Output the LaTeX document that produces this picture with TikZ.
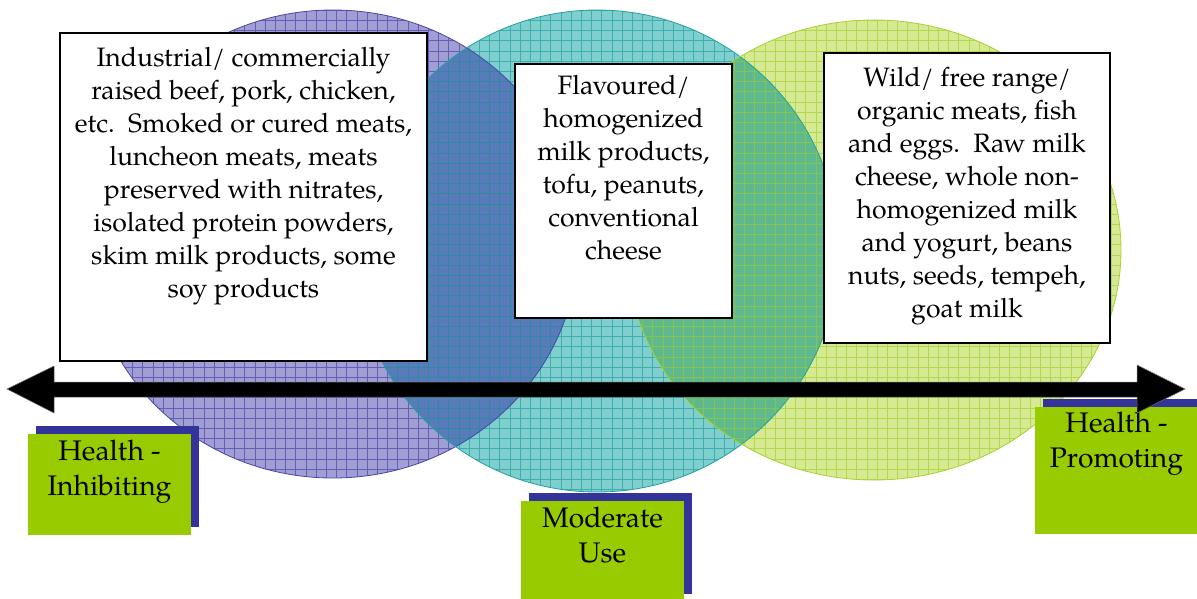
\documentclass[tikz,border=0pt]{standalone}
\usepackage{fontspec}
\setmainfont{TeX Gyre Pagella}
\definecolor{pfill}{HTML}{A09ED5}
\definecolor{tfill}{HTML}{80CFCF}
\definecolor{gfill}{HTML}{D5EA92}
\definecolor{ptfill}{HTML}{5A7BBA}
\definecolor{tgfill}{HTML}{5FB98F}
\definecolor{pline}{HTML}{4A46A6}
\definecolor{tline}{HTML}{22A0A0}
\definecolor{gline}{HTML}{A6D130}
\definecolor{lblgreen}{HTML}{99CC00}
\definecolor{lblshadow}{HTML}{333399}
\begin{document}
\begin{tikzpicture}[x=1pt,y=-1pt,
  bodytext/.style={font=\fontsize{26.6}{33}\selectfont, align=center, inner sep=0pt, anchor=north},
  lbltext/.style={font=\fontsize{28.3}{34.5}\selectfont, align=center, inner sep=0pt, anchor=north},
  whitebox/.style={draw=black, line width=1.8pt, fill=white, inner sep=0pt},
  greenbox/.style={fill=lblgreen, inner sep=0pt, minimum width=163pt},
  shadowbox/.style={fill=lblshadow, inner sep=0pt, minimum width=163pt},
  gridlines/.style={line width=0.7pt, opacity=0.7},
  rim/.style={line width=0.8pt},
  purpleE/.style={insert path={(333,244) ellipse [x radius=245pt, y radius=234pt]}},
  tealE/.style={insert path={(597,251) ellipse [x radius=242pt, y radius=241pt]}},
  greenE/.style={insert path={(874,250) ellipse [x radius=247pt, y radius=230pt]}},
]
\useasboundingbox (0,0) rectangle (1197,598);

% three overlapping circles
\fill[pfill, purpleE];
\fill[tfill, tealE];
\fill[gfill, greenE];
\begin{scope}
  \clip[purpleE];
  \fill[ptfill, tealE];
\end{scope}
\begin{scope}
  \clip[tealE];
  \fill[tgfill, greenE];
\end{scope}

% grid texture inside each circle
\begin{scope}
  \clip[purpleE];
  \draw[gridlines, pline] (0,0) grid[step=10.2pt] (600,500);
\end{scope}
\begin{scope}
  \clip[tealE];
  \draw[gridlines, tline] (300,0) grid[step=10.2pt] (860,500);
\end{scope}
\begin{scope}
  \clip[greenE];
  \draw[gridlines, gline] (600,0) grid[step=10.2pt] (1140,500);
\end{scope}

% circle rims
\draw[rim, pline, purpleE];
\draw[rim, tline, tealE];
\draw[rim, gline, greenE];

% white text boxes
\node[whitebox, minimum width=367pt, minimum height=328pt] (box1) at (243.5,197) {};
\node[whitebox, minimum width=217pt, minimum height=254pt] (box2) at (623.5,191) {};
\node[whitebox, minimum width=286pt, minimum height=290pt] (box3) at (967,198) {};

\node[bodytext] (txt1) at (243.5,47) {Industrial/ commercially\\
raised beef, pork, chicken,\\
etc.\ \ Smoked or cured meats,\\
luncheon meats, meats\\
preserved with nitrates,\\
isolated protein powders,\\
skim milk products, some\\
soy products};

\node[bodytext] (txt2) at (623.5,75) {Flavoured/\\
homogenized\\
milk products,\\
tofu, peanuts,\\
conventional\\
cheese};

\node[bodytext] (txt3) at (967,67) {Wild/ free range/\\
organic meats, fish\\
and eggs.\ \ Raw milk\\
cheese, whole non-\\
homogenized milk\\
and yogurt, beans\\
nuts, seeds, tempeh,\\
goat milk};

% green scale labels with offset shadows
\node[shadowbox, minimum height=101pt] (sh1) at (117.5,476.5) {};
\node[greenbox, minimum height=101pt] (lab1) at (109.5,484.5) {};
\node[lbltext] (lt1) at (109.5,440) {Health -\\Inhibiting};

\node[shadowbox, minimum height=101pt] (sh2) at (610.5,543.5) {};
\node[greenbox, minimum height=101pt] (lab2) at (602.5,551.5) {};
\node[lbltext] (lt2) at (602.5,507) {Moderate\\Use};

\node[shadowbox, minimum height=127pt] (sh3) at (1124.5,462.5) {};
\node[greenbox, minimum height=127pt] (lab3) at (1116.5,470.5) {};
\node[lbltext] (lt3) at (1116.5,412) {Health -\\Promoting};

% double-headed scale arrow
\coordinate (tipL) at (7,389);
\coordinate (tipR) at (1185,389);
\fill[black, draw=black!55, line width=0.5pt] (tipL) -- ++(47,-23) -- ++(0,16) -- ++(1083,0)
  -- ++(0,-17) -- (tipR) -- ++(-48,24) -- ++(0,-16) -- ++(-1083,0) -- ++(0,16) -- cycle;
\end{tikzpicture}
\end{document}
